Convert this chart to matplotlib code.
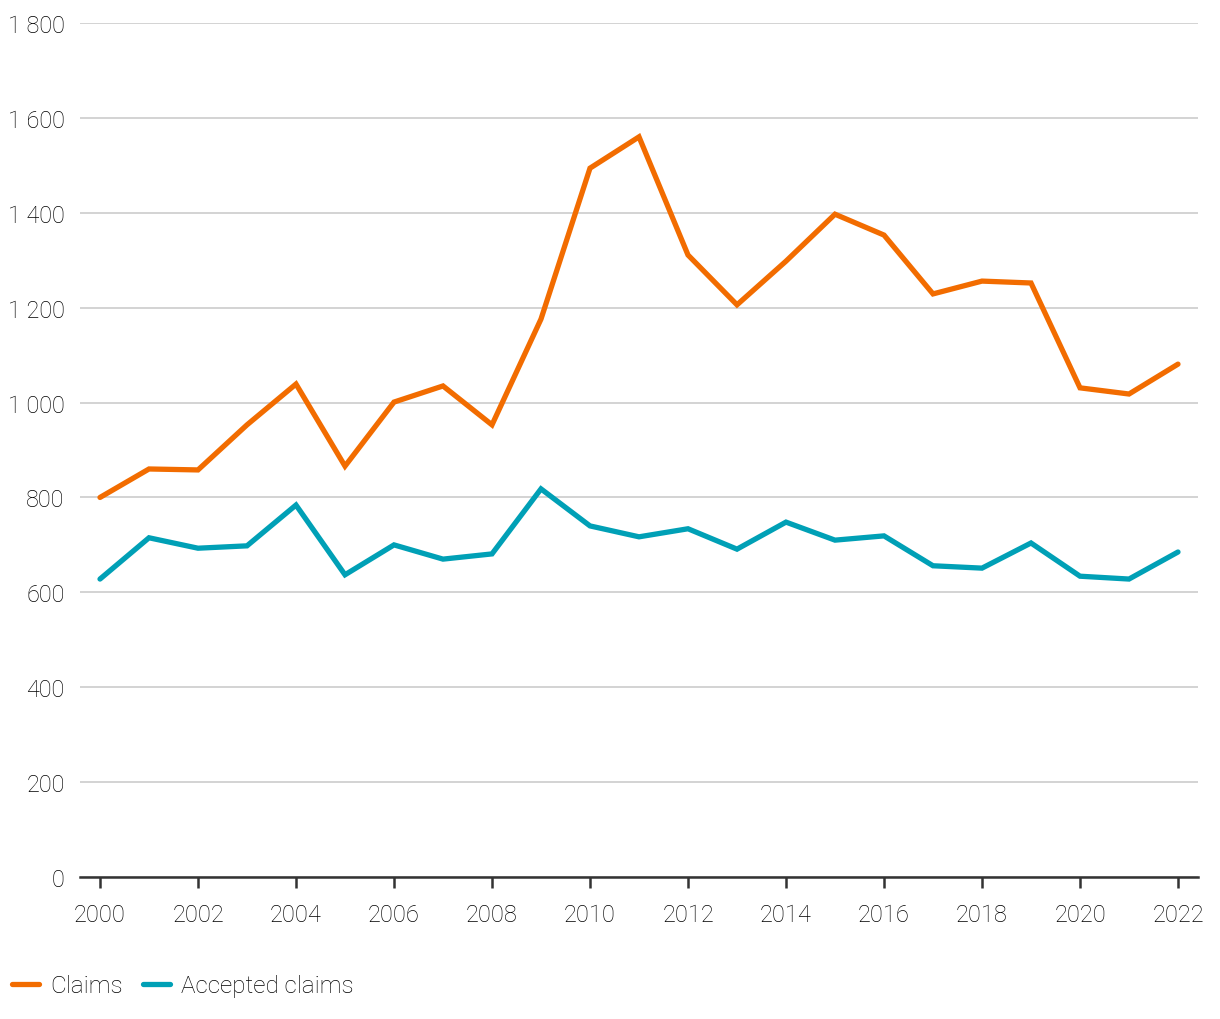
import matplotlib
matplotlib.use("Agg")
import matplotlib.pyplot as plt
from matplotlib.ticker import FuncFormatter

years = list(range(2000, 2023))
claims = [800, 860, 858, 953, 1039, 866, 1001, 1035, 953, 1176, 1494, 1560,
          1311, 1206, 1298, 1397, 1353, 1229, 1256, 1252, 1031, 1018, 1081]
accepted = [628, 715, 693, 698, 784, 637, 700, 670, 681, 818, 740, 717,
            734, 691, 748, 710, 719, 656, 651, 704, 634, 628, 685]

ORANGE = "#F26C00"
TEAL = "#00A0B6"
TEXT = "#000000"

plt.rcParams["font.family"] = ["Roboto", "DejaVu Sans"]
plt.rcParams["font.weight"] = "light"

fig = plt.figure(figsize=(12.2, 10.2), dpi=100)
ax = fig.add_axes([80 / 1220, 1 - 878 / 1020, 1118 / 1220, 854 / 1020])

ax.plot(years, claims, color=ORANGE, lw=3.8, solid_joinstyle="miter",
        solid_capstyle="round", label="Claims", zorder=3)
ax.plot(years, accepted, color=TEAL, lw=3.8, solid_joinstyle="miter",
        solid_capstyle="round", label="Accepted claims", zorder=3)

ax.set_ylim(0, 1800)
ax.set_xlim(2000 - 20 / 49, 2022 + 20 / 49)
ax.set_yticks(range(0, 1801, 200))
ax.set_xticks(range(2000, 2023, 2))
ax.yaxis.set_major_formatter(FuncFormatter(lambda v, _: f"{int(v):,}".replace(",", " ")))

ax.grid(axis="y", color="#CCCCCC", lw=1.2, zorder=0)
for s in ["top", "right", "left"]:
    ax.spines[s].set_visible(False)
ax.spines["bottom"].set_color("#333333")
ax.spines["bottom"].set_linewidth(1.8)
ax.spines["bottom"].set_zorder(4)

ax.tick_params(axis="y", length=0, pad=11, labelsize=16.8, labelcolor=TEXT)
ax.tick_params(axis="x", length=8, width=1.8, color="#333333", pad=11,
               labelsize=17, labelcolor=TEXT)

leg = fig.legend(loc="lower left", bbox_to_anchor=(0.002, 0.012), ncol=2, frameon=False,
                 fontsize=17.5, handlelength=1.1, handletextpad=0.45, columnspacing=0.85,
                 borderaxespad=0.0)
for t in leg.get_texts():
    t.set_color(TEXT)

fig.savefig("out.png", dpi=100)
